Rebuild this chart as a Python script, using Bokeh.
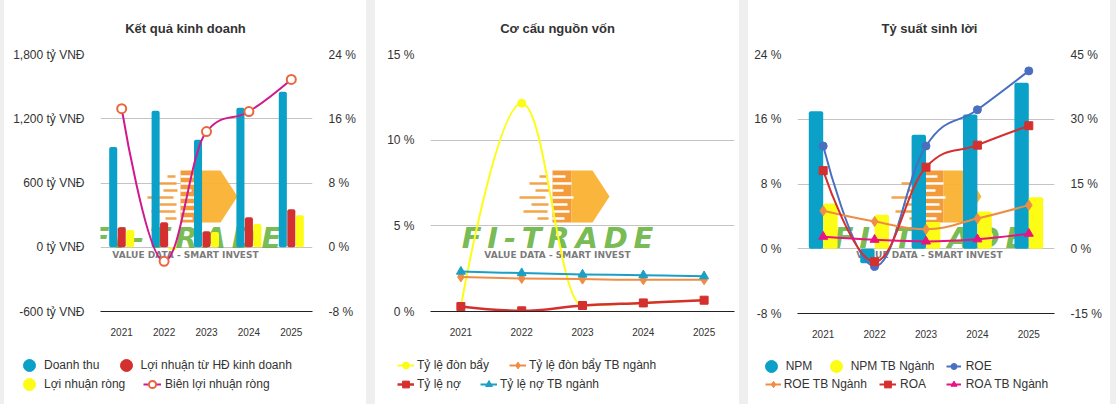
from bokeh.plotting import figure
from bokeh.models import (Range1d, LinearAxis, FixedTicker, Legend, LegendItem,
                          Label, PolyAnnotation, ColumnDataSource)
from bokeh.core.properties import value
from bokeh.layouts import row, column
from bokeh.transform import dodge
from bokeh.embed import file_html
from bokeh.resources import INLINE

# ---------------- data ----------------
years = ["2021", "2022", "2023", "2024", "2025"]

# Kết quả kinh doanh
doanh_thu = [937, 1275, 1003, 1303, 1453]
loi_nhuan_hdkd = [187, 234, 150, 281, 356]
loi_nhuan_rong = [160, -23, 142, 218, 300]
bien_loi_nhuan_rong = [17.25, -1.75, 14.4, 16.9, 20.9]
kq_left_ticks = [-600, 0, 600, 1200, 1800]
kq_right_ticks = [-8, 0, 8, 16, 24]

# Cơ cấu nguồn vốn
ty_le_don_bay = [0.29, 12.16, 0.35, 0.5, 0.66]
ty_le_don_bay_tb = [2.02, 1.93, 1.89, 1.85, 1.85]
ty_le_no = [0.29, 0.04, 0.35, 0.5, 0.66]
ty_le_no_tb = [2.33, 2.24, 2.16, 2.12, 2.06]
cc_ticks = [0, 5, 10, 15]

# Tỷ suất sinh lời
npm = [17.0, -1.8, 14.1, 16.6, 20.5]
npm_tb = [5.6, 4.2, 3.3, 4.6, 6.35]
roe = [23.8, -4.1, 23.8, 32.2, 41.2]
roe_tb = [8.8, 6.3, 4.5, 7.0, 10.1]
roa = [18.1, -3.0, 18.9, 24.0, 28.5]
roa_tb = [2.8, 2.1, 1.7, 2.2, 3.5]
ts_left_ticks = [-8, 0, 8, 16, 24]
ts_right_ticks = [-15, 0, 15, 30, 45]

# ---------------- style ----------------
FONT = "Liberation Sans"
TXT = "#333333"
GRID = "#c4c4c4"
H = 404
HEAD = 40        # header (title) strip height
LEGH = 54        # legend strip height
CH = H - HEAD - LEGH   # chart figure height
FTOP = 54        # frame top (window y)

BLUE = "#0aa0c8"
RED = "#d3302f"
YEL = "#fcfc14"
MAG = "#d1188c"
ORG_MK = "#e9673f"
ORANGE = "#ef8c45"
TEAL = "#1c9fc4"
ROE_C = "#4a6fc1"
PINK = "#e8147f"

xc = [i + 0.5 for i in range(len(years))]


def spline(xs, ys):
    """Highcharts-style spline control points."""
    n = len(xs)
    lc, rc = [], []
    for i in range(n):
        x, y = xs[i], ys[i]
        if 0 < i < n - 1:
            lx, ly = xs[i - 1], ys[i - 1]
            nx, ny = xs[i + 1], ys[i + 1]
            lcx = (1.5 * x + lx) / 2.5
            lcy = (1.5 * y + ly) / 2.5
            rcx = (1.5 * x + nx) / 2.5
            rcy = (1.5 * y + ny) / 2.5
            if rcx != lcx:
                corr = (rcy - lcy) * (rcx - x) / (rcx - lcx) + y - rcy
                lcy += corr
                rcy += corr
                if lcy > ly and lcy > y:
                    lcy = max(ly, y); rcy = 2 * y - lcy
                elif lcy < ly and lcy < y:
                    lcy = min(ly, y); rcy = 2 * y - lcy
                if rcy > ny and rcy > y:
                    rcy = max(ny, y); lcy = 2 * y - rcy
                elif rcy < ny and rcy < y:
                    rcy = min(ny, y); lcy = 2 * y - rcy
            lc.append((lcx, lcy)); rc.append((rcx, rcy))
        else:
            lc.append((x, y)); rc.append((x, y))
    seg = dict(x0=[], y0=[], x1=[], y1=[], cx0=[], cy0=[], cx1=[], cy1=[])
    for i in range(1, n):
        seg["x0"].append(xs[i - 1]); seg["y0"].append(ys[i - 1])
        seg["x1"].append(xs[i]); seg["y1"].append(ys[i])
        seg["cx0"].append(rc[i - 1][0]); seg["cy0"].append(rc[i - 1][1])
        seg["cx1"].append(lc[i][0]); seg["cy1"].append(lc[i][1])
    return seg


def style_yaxis(ax, ticks, fmt):
    ax.ticker = FixedTicker(ticks=ticks)
    ax.major_label_overrides = {t: fmt(t) for t in ticks}
    ax.axis_line_color = None
    ax.major_tick_line_color = None
    ax.minor_tick_line_color = None
    ax.major_tick_out = 0
    ax.major_tick_in = 0
    ax.minor_tick_out = 0
    ax.major_label_standoff = 16
    ax.major_label_text_font = FONT
    ax.major_label_text_font_size = "12px"
    ax.major_label_text_color = TXT


def strip(w, h):
    s = figure(width=w, height=h, x_range=Range1d(0, w), y_range=Range1d(0, h),
               x_axis_type=None, y_axis_type=None, output_backend="svg", toolbar_location=None,
               min_border=0, background_fill_color="white", border_fill_color="white",
               outline_line_color=None, frame_align=False)
    s.xgrid.visible = False
    s.ygrid.visible = False
    return s


def rect_poly(p, x0, x1, y0, y1, color, alpha=1.0):
    p.add_layout(PolyAnnotation(xs=[x0, x1, x1, x0], ys=[y0, y0, y1, y1],
                                xs_units="screen", ys_units="screen", fill_color=color,
                                fill_alpha=alpha, line_color=None, level="underlay"))


def watermark(p, cx, fy):
    # logo body (two tones imitate the gradient)
    p.add_layout(PolyAnnotation(xs=[cx - 5, cx + 14, cx + 14, cx - 5],
                                ys=[fy(170), fy(170), fy(222), fy(222)],
                                xs_units="screen", ys_units="screen", fill_color="#f29530",
                                fill_alpha=0.95, line_color=None, level="underlay"))
    p.add_layout(PolyAnnotation(xs=[cx + 14, cx + 35, cx + 52, cx + 35, cx + 14],
                                ys=[fy(170), fy(170), fy(196), fy(222), fy(222)],
                                xs_units="screen", ys_units="screen", fill_color="#f9b131",
                                fill_alpha=0.95, line_color=None, level="underlay"))
    # white streaks through the left of the body
    for k, (a, b) in enumerate([(-5, 8), (-5, 14), (-5, 6), (-5, 16), (-5, 10), (-5, 12), (-5, 7)]):
        wy = 176 + 7 * k
        rect_poly(p, cx + a, cx + b, fy(wy + 1.2), fy(wy - 1.2), "white")
    # orange dashes trailing to the left
    for k, (a, b) in enumerate([(-18, -10), (-28, -9), (-22, -8), (-38, -12), (-26, -9),
                                (-34, -10), (-20, -9)]):
        wy = 176 + 7 * k
        rect_poly(p, cx + a, cx + b, fy(wy + 1.3), fy(wy - 1.3), "#f39a35", 0.9)
    p.add_layout(Label(x=cx, y=fy(237), x_units="screen", y_units="screen",
                       text="F\u2009I\u2009-\u2009T\u2009R\u2009A\u2009D\u2009E",
                       text_font="DejaVu Sans", text_font_size="29px", text_font_style="bold italic",
                       text_color="#66b23c", text_alpha=0.9, text_align="center",
                       text_baseline="middle", level="underlay"))
    p.add_layout(Label(x=cx, y=fy(254), x_units="screen", y_units="screen",
                       text="VALUE DATA - SMART INVEST", text_font="DejaVu Sans",
                       text_font_size="9px", text_font_style="bold", text_color="#6a6a6a",
                       text_alpha=0.9, text_align="center", text_baseline="middle", level="underlay"))


def make_chart(title, w, ml, mr, fbot, yr, ticks, fmt):
    ph = strip(w, HEAD)
    ph.add_layout(Label(x=w / 2, y=HEAD - 28, text=title, text_font=FONT,
                        text_font_size="13px", text_font_style="bold", text_color=TXT,
                        text_align="center", text_baseline="middle"))
    p = figure(width=w, height=CH, x_range=Range1d(0, len(years)), y_range=Range1d(*yr),
               output_backend="svg", toolbar_location=None, frame_align=False,
               min_border_left=ml, min_border_right=mr, min_border_top=FTOP - HEAD,
               min_border_bottom=H - LEGH - fbot,
               background_fill_color="white", border_fill_color="white", outline_line_color=None)
    p.xgrid.visible = False
    xa = p.xaxis[0]
    xa.ticker = FixedTicker(ticks=xc)
    xa.major_label_overrides = {x: y for x, y in zip(xc, years)}
    xa.axis_line_color = "#222222"
    xa.axis_line_width = 1
    xa.major_tick_line_color = None
    xa.minor_tick_line_color = None
    xa.major_tick_out = 0
    xa.major_tick_in = 0
    xa.minor_tick_out = 0
    xa.major_label_standoff = 16
    xa.major_label_text_font = FONT
    xa.major_label_text_font_size = "10px"
    xa.major_label_text_color = TXT
    style_yaxis(p.yaxis[0], ticks, fmt)
    p.ygrid.ticker = FixedTicker(ticks=ticks)
    p.ygrid.grid_line_color = GRID
    # watermark (screen units, relative to the frame's bottom-left corner)
    watermark(p, w / 2 - ml, lambda wy: fbot - wy)
    pl = strip(w, LEGH)
    return ph, p, pl


def add_right(p, rng, ticks, fmt):
    p.extra_y_ranges = {"r": Range1d(*rng)}
    ax = LinearAxis(y_range_name="r")
    style_yaxis(ax, ticks, fmt)
    p.add_layout(ax, "right")


def add_leg(pl, label, rends, gl, gw, gh, cy, tx):
    # gl, tx: panel-local x; cy: window y of the row centre
    lg = Legend(items=[LegendItem(label=value(label), renderers=rends)],
                location=(gl, H - (cy + gh / 2)), orientation="horizontal",
                glyph_width=gw, glyph_height=gh, label_height=gh,
                label_standoff=int(round(tx - (gl + gw))), padding=0, margin=0, spacing=0,
                border_line_color=None, background_fill_alpha=0,
                label_text_font=FONT, label_text_font_size="12px", label_text_color=TXT)
    pl.add_layout(lg)


# legend proxies sit outside the strip's visible range; only their legend glyph shows
OFF = [-1000, -999]


def circle_leg(pl, label, color, c, cy, tx):
    pr = pl.scatter(x=OFF, y=OFF, marker="circle", fill_color=color, line_color=color)
    add_leg(pl, label, [pr], c - 15, 30, 30, cy, tx)


def line_leg(pl, label, color, marker, mfill, mline, lw, gl, gr, cy, tx):
    ln = pl.line(x=OFF, y=OFF, line_color=color, line_width=lw)
    mk = pl.scatter(x=OFF, y=OFF, marker=marker, fill_color=mfill, line_color=mline,
                    line_width=2 if mfill == "white" else 1)
    add_leg(pl, label, [ln, mk], gl, int(round(gr - gl)), 18, cy, tx)


pct = lambda t: f"{t} %"

# ---------------- chart 1 ----------------
P1L, W1 = 4, 362
h1, p1, l1 = make_chart("Kết quả kinh doanh", W1, 96, 54, 311, (-600, 1800), kq_left_ticks,
                        lambda t: f"{t:,} tỷ VNĐ")
add_right(p1, (-8, 24), kq_right_ticks, pct)
src1 = ColumnDataSource(dict(x=xc, dt=doanh_thu, ln=loi_nhuan_hdkd, lr=loi_nhuan_rong))
p1.vbar(x=dodge("x", -0.2, range=p1.x_range), top="dt", width=0.19, fill_color=BLUE,
        line_color=None, border_radius=2, source=src1)
p1.vbar(x=dodge("x", 0.0, range=p1.x_range), top="ln", width=0.19, fill_color=RED,
        line_color=None, border_radius=2, source=src1)
p1.vbar(x=dodge("x", 0.2, range=p1.x_range), top="lr", width=0.19, fill_color=YEL,
        line_color=None, border_radius=2, source=src1)
p1.bezier(**spline(xc, bien_loi_nhuan_rong), line_color=MAG, line_width=2, y_range_name="r")
p1.scatter(x=xc, y=bien_loi_nhuan_rong, y_range_name="r", marker="circle", size=9,
           fill_color="white", line_color=ORG_MK, line_width=2)
circle_leg(l1, "Doanh thu", BLUE, 29 - P1L, 365, 42 - P1L)
circle_leg(l1, "Lợi nhuận từ HĐ kinh doanh", RED, 125.5 - P1L, 365, 139 - P1L)
circle_leg(l1, "Lợi nhuận ròng", YEL, 29 - P1L, 384, 42 - P1L)
line_leg(l1, "Biên lợi nhuận ròng", MAG, "circle", "white", ORG_MK, 2,
         143 - P1L, 161 - P1L, 384, 165 - P1L)

# ---------------- chart 2 ----------------
P2L, W2 = 375, 364
h2, p2, l2 = make_chart("Cơ cấu nguồn vốn", W2, 55, 5, 311, (0, 15), cc_ticks, pct)
series2 = [
    (ty_le_don_bay, YEL, "circle", 8, 2),
    (ty_le_don_bay_tb, ORANGE, "diamond", 10, 2),
    (ty_le_no, RED, "square", 8, 2.5),
    (ty_le_no_tb, TEAL, "triangle", 9, 2),
]
for vals, col, mkr, sz, lw in series2:
    p2.bezier(**spline(xc, vals), line_color=col, line_width=lw)
    p2.scatter(x=xc, y=vals, marker=mkr, size=sz, fill_color=col, line_color=col)
line_leg(l2, "Tỷ lệ đòn bẩy", YEL, "circle", YEL, YEL, 2, 397 - P2L, 414 - P2L, 364.5, 417 - P2L)
line_leg(l2, "Tỷ lệ đòn bẩy TB ngành", ORANGE, "diamond", ORANGE, ORANGE, 2,
         509 - P2L, 526 - P2L, 364.5, 529 - P2L)
line_leg(l2, "Tỷ lệ nợ", RED, "square", RED, RED, 2.5, 397 - P2L, 414 - P2L, 383.5, 417 - P2L)
line_leg(l2, "Tỷ lệ nợ TB ngành", TEAL, "triangle", TEAL, TEAL, 2,
         480 - P2L, 497 - P2L, 383.5, 500 - P2L)

# ---------------- chart 3 ----------------
P3L, W3 = 748, 362
h3, p3, l3 = make_chart("Tỷ suất sinh lời", W3, 49, 56, 313, (-8, 24), ts_left_ticks, pct)
add_right(p3, (-15, 45), ts_right_ticks, pct)
src3 = ColumnDataSource(dict(x=xc, npm=npm, npm_tb=npm_tb))
p3.vbar(x=dodge("x", -0.14, range=p3.x_range), top="npm", width=0.28, fill_color=BLUE,
        line_color=None, border_radius=2, source=src3)
p3.vbar(x=dodge("x", 0.14, range=p3.x_range), top="npm_tb", width=0.28, fill_color=YEL,
        line_color=None, border_radius=2, source=src3)
series3 = [
    (roe, ROE_C, "circle", 8),
    (roe_tb, ORANGE, "diamond", 10),
    (roa, RED, "square", 8),
    (roa_tb, PINK, "triangle", 9),
]
for vals, col, mkr, sz in series3:
    p3.bezier(**spline(xc, vals), line_color=col, line_width=2, y_range_name="r")
    p3.scatter(x=xc, y=vals, marker=mkr, size=sz, fill_color=col, line_color=col, y_range_name="r")
circle_leg(l3, "NPM", BLUE, 770.7 - P3L, 365.7, 783.3 - P3L)
circle_leg(l3, "NPM TB Ngành", YEL, 835.7 - P3L, 365.7, 848 - P3L)
line_leg(l3, "ROE", ROE_C, "circle", ROE_C, ROE_C, 2, 945.7 - P3L, 961 - P3L, 365.7, 966 - P3L)
line_leg(l3, "ROE TB Ngành", ORANGE, "diamond", ORANGE, ORANGE, 2,
         764.7 - P3L, 781 - P3L, 384, 783.3 - P3L)
line_leg(l3, "ROA", RED, "square", RED, RED, 2, 879 - P3L, 895.7 - P3L, 384, 900 - P3L)
line_leg(l3, "ROA TB Ngành", PINK, "triangle", PINK, PINK, 2,
         945.7 - P3L, 961 - P3L, 384, 966 - P3L)

cols = []
for hh, pp, ll, wl in ((h1, p1, l1, W1), (h2, p2, l2, W2), (h3, p3, l3, W3)):
    cols.append(column(hh, pp, ll, spacing=0, width=wl, height=H,
                       styles={"background-color": "white"}))
cols[0].margin = (0, 0, 0, P1L)
layout = row(*cols, spacing=9, width=1116, height=404,
             styles={"background-color": "#efefef"})

open("out.html", "w").write(file_html(layout, INLINE))
